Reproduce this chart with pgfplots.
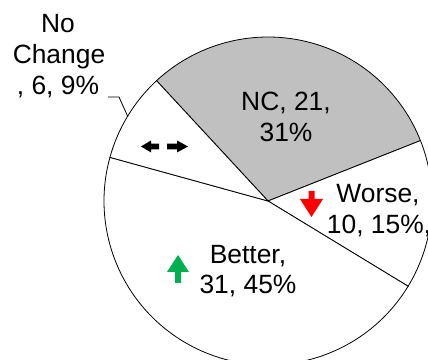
\documentclass[border=0pt]{standalone}
\usepackage{pgfplots}
\usepackage{pgfplotstable}
\usepackage{fontspec}
\setmainfont{Liberation Sans}
\pgfplotsset{compat=1.18}

\definecolor{ncgray}{RGB}{192,192,192}
\definecolor{upgreen}{RGB}{0,176,80}
\definecolor{downred}{RGB}{255,0,0}

% Survey outcome counts, in the order the slices run clockwise
\pgfplotstableread{
label    value
NC       21
Worse    10
Better   31
NoChange 6
}\piedata

\pgfplotstablegetelem{0}{value}\of\piedata\let\vNC\pgfplotsretval
\pgfplotstablegetelem{1}{value}\of\piedata\let\vWorse\pgfplotsretval
\pgfplotstablegetelem{2}{value}\of\piedata\let\vBetter\pgfplotsretval
\pgfplotstablegetelem{3}{value}\of\piedata\let\vNoChange\pgfplotsretval

\pgfmathsetmacro\total{\vNC+\vWorse+\vBetter+\vNoChange}
\pgfmathsetmacro\aA{132.8}
\pgfmathsetmacro\aB{\aA-360*\vNC/\total}
\pgfmathsetmacro\aC{\aB-360*\vWorse/\total}
\pgfmathsetmacro\aD{\aC-360*\vBetter/\total}
\pgfmathsetmacro\aE{\aD-360*\vNoChange/\total}

\newcommand\lbl{\fontsize{26.5}{30.5}\selectfont}

\begin{document}
\begin{tikzpicture}
\useasboundingbox (0,0) rectangle (428bp,360bp);
\clip (0,0) rectangle (428bp,360bp);
\begin{axis}[
  at={(0,0)}, anchor=origin,
  x=1bp, y=1bp,
  xmin=0, xmax=428, ymin=0, ymax=360,
  hide axis, clip=true,
]
% pie slices (centre and radius in axis units = bp)
\filldraw[fill=ncgray, draw=black, line width=0.8bp]
  (axis cs:268,159) -- ++(\aA:164bp) arc[start angle=\aA, end angle=\aB, radius=164bp] -- cycle;
\filldraw[fill=white, draw=black, line width=0.8bp]
  (axis cs:268,159) -- ++(\aB:164bp) arc[start angle=\aB, end angle=\aC, radius=164bp] -- cycle;
\filldraw[fill=white, draw=black, line width=0.8bp]
  (axis cs:268,159) -- ++(\aC:164bp) arc[start angle=\aC, end angle=\aD, radius=164bp] -- cycle;
\filldraw[fill=white, draw=black, line width=0.8bp]
  (axis cs:268,159) -- ++(\aD:164bp) arc[start angle=\aD, end angle=\aE, radius=164bp] -- cycle;

% slice labels
\node[anchor=base, inner sep=0] at (axis cs:286,250) {\lbl NC, 21,};
\node[anchor=base, inner sep=0] at (axis cs:286,219) {\lbl 31\%};
\node[anchor=base, inner sep=0] at (axis cs:378,158) {\lbl Worse,};
\node[anchor=base, inner sep=0] at (axis cs:379,127) {\lbl 10, 15\%,};
\node[anchor=base, inner sep=0] at (axis cs:248,97) {\lbl Better,};
\node[anchor=base, inner sep=0] at (axis cs:248,67) {\lbl 31, 45\%};
\node[anchor=base, inner sep=0] at (axis cs:58,328) {\lbl No};
\node[anchor=base, inner sep=0] at (axis cs:59,297) {\lbl Change};
\node[anchor=base, inner sep=0] at (axis cs:58,266) {\lbl , 6, 9\%};

% leader line for the small slice
\draw[black, line width=0.8bp] (axis cs:128,243) -- (axis cs:119,263) -- (axis cs:108,263);

% trend arrows
\fill[upgreen] (axis cs:178,105) -- (axis cs:189,88) -- (axis cs:181,88) -- (axis cs:181,77)
  -- (axis cs:175,77) -- (axis cs:175,88) -- (axis cs:167,88) -- cycle;
\fill[downred] (axis cs:311.5,143) -- (axis cs:323,161) -- (axis cs:314.5,161) -- (axis cs:314.5,169)
  -- (axis cs:308.5,169) -- (axis cs:308.5,161) -- (axis cs:300,161) -- cycle;
\fill[black] (axis cs:141,213.5) -- (axis cs:151,219.5) -- (axis cs:151,216.3) -- (axis cs:159,216.3)
  -- (axis cs:159,210.7) -- (axis cs:151,210.7) -- (axis cs:151,207.5) -- cycle;
\fill[black] (axis cs:188,213.5) -- (axis cs:177,219.5) -- (axis cs:177,216.3) -- (axis cs:167,216.3)
  -- (axis cs:167,210.7) -- (axis cs:177,210.7) -- (axis cs:177,207.5) -- cycle;
\end{axis}
\end{tikzpicture}
\end{document}
